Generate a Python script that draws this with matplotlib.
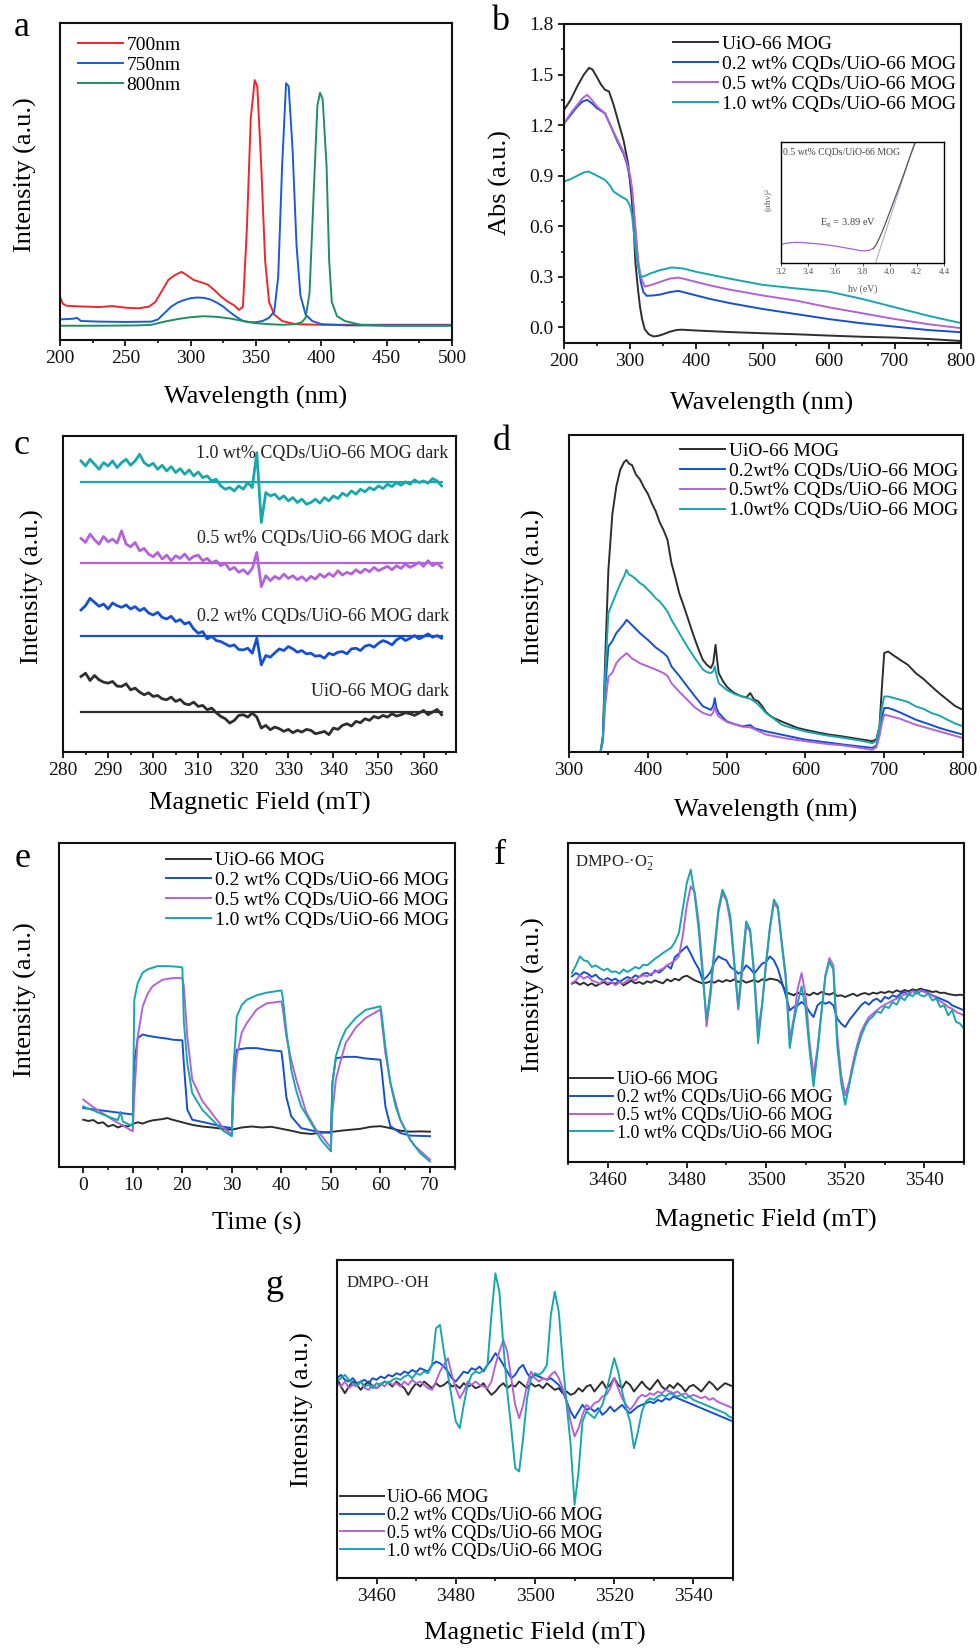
import numpy as np
import matplotlib
matplotlib.use("Agg")
import matplotlib.pyplot as plt
from matplotlib.ticker import MultipleLocator, FormatStrFormatter, NullLocator

plt.rcParams['font.family'] = ['Liberation Serif', 'DejaVu Serif']
plt.rcParams['mathtext.fontset'] = 'custom'
plt.rcParams['mathtext.rm'] = 'Liberation Serif'
plt.rcParams['mathtext.it'] = 'Liberation Serif:italic'
plt.rcParams['mathtext.bf'] = 'Liberation Serif:bold'

W, H = 980, 1648
BLACK = '#2e2e2e'
BLUE = '#1550d2'
PURPLE = '#b462da'
TEAL = '#17a7ad'
SAMPLES = ['UiO-66 MOG', '0.2 wt% CQDs/UiO-66 MOG', '0.5 wt% CQDs/UiO-66 MOG', '1.0 wt% CQDs/UiO-66 MOG']
SAMPLES_D = ['UiO-66 MOG', '0.2wt% CQDs/UiO-66 MOG', '0.5wt% CQDs/UiO-66 MOG', '1.0wt% CQDs/UiO-66 MOG']
COLORS = [BLACK, BLUE, PURPLE, TEAL]

# ---- (a) excitation spectra ----
a_labels = ['700nm', '750nm', '800nm']
a_colors = ['#f0262b', '#1a5bd6', '#1f8f5f']
a_red_x = [200, 202, 205, 215, 230, 240, 250, 260, 268, 273, 278, 283, 288, 293, 297, 302, 308, 313, 318, 323, 328, 333, 337, 340, 343, 346, 349, 351, 354, 357, 360, 364, 370, 380, 400, 500]
a_red_y = [13.7, 11.5, 10.8, 10.6, 10.4, 10.7, 10.2, 10.0, 10.5, 12.0, 15.5, 19.0, 20.5, 21.5, 20.5, 19.0, 18.2, 17.5, 15.8, 13.8, 12.2, 11.0, 9.5, 10.5, 35, 70, 82, 80, 55, 25, 12, 8, 6, 5.0, 4.8, 4.8]
a_blue_x = [200, 210, 213, 216, 230, 250, 270, 275, 280, 285, 290, 295, 300, 305, 310, 315, 320, 325, 330, 335, 340, 345, 350, 355, 360, 364, 367, 370, 373, 375, 378, 381, 384, 388, 393, 400, 420, 500]
a_blue_y = [6.5, 6.7, 7.0, 6.0, 5.8, 5.7, 5.8, 6.5, 8.5, 10.5, 11.8, 12.6, 13.2, 13.4, 13.3, 12.8, 11.8, 10.5, 8.8, 7.3, 6.0, 5.6, 5.6, 6.0, 7.0, 9.0, 20, 55, 81, 80, 60, 30, 14, 8, 6, 5, 4.6, 4.6]
a_green_x = [200, 230, 260, 270, 280, 290, 300, 310, 320, 330, 340, 350, 360, 370, 380, 385, 388, 391, 394, 397, 399, 401, 404, 406, 408, 412, 418, 430, 450, 500]
a_green_y = [4.5, 4.5, 4.6, 4.8, 5.8, 6.6, 7.2, 7.5, 7.3, 6.8, 6.0, 5.3, 5.0, 4.8, 5.0, 5.6, 7.0, 15, 45, 74, 78, 76, 55, 25, 12, 7.5, 6, 4.8, 4.5, 4.5]

# ---- (b) UV-vis absorbance ----
b_black_x = [200, 210, 220, 230, 238, 243, 249, 256, 262, 268, 275, 280, 285, 290, 297, 302, 305, 308, 312, 315, 318, 322, 328, 335, 342, 350, 360, 370, 378, 400, 450, 500, 550, 600, 650, 700, 750, 800]
b_black_y = [1.29, 1.35, 1.43, 1.50, 1.54, 1.53, 1.49, 1.44, 1.41, 1.40, 1.32, 1.25, 1.18, 1.11, 0.97, 0.78, 0.62, 0.38, 0.22, 0.12, 0.05, -0.01, -0.04, -0.053, -0.05, -0.04, -0.025, -0.015, -0.013, -0.018, -0.027, -0.034, -0.04, -0.048, -0.055, -0.06, -0.068, -0.08]
b_blue_x = [200, 210, 220, 228, 235, 242, 250, 262, 270, 280, 290, 295, 300, 303, 306, 309, 312, 316, 320, 325, 335, 345, 360, 373, 390, 420, 450, 500, 550, 600, 650, 700, 750, 800]
b_blue_y = [1.21, 1.26, 1.31, 1.34, 1.35, 1.33, 1.30, 1.27, 1.20, 1.11, 1.03, 0.97, 0.88, 0.80, 0.66, 0.52, 0.38, 0.27, 0.21, 0.188, 0.19, 0.195, 0.21, 0.217, 0.20, 0.17, 0.145, 0.11, 0.08, 0.05, 0.025, 0.005, -0.015, -0.028]
b_purple_x = [200, 210, 220, 228, 235, 242, 250, 262, 270, 280, 290, 295, 300, 303, 306, 309, 312, 316, 322, 330, 345, 360, 373, 390, 420, 450, 500, 550, 600, 650, 700, 750, 800]
b_purple_y = [1.21, 1.27, 1.32, 1.36, 1.38, 1.35, 1.31, 1.27, 1.20, 1.12, 1.04, 0.98, 0.90, 0.82, 0.68, 0.54, 0.40, 0.30, 0.243, 0.25, 0.27, 0.29, 0.296, 0.28, 0.25, 0.225, 0.19, 0.16, 0.12, 0.085, 0.05, 0.02, -0.004]
b_teal_x = [200, 210, 220, 230, 237, 245, 255, 262, 270, 275, 285, 295, 300, 303, 306, 310, 314, 317, 322, 330, 345, 363, 380, 400, 450, 500, 550, 600, 650, 700, 750, 800]
b_teal_y = [0.866, 0.88, 0.90, 0.92, 0.925, 0.91, 0.89, 0.875, 0.84, 0.806, 0.78, 0.757, 0.72, 0.66, 0.55, 0.40, 0.32, 0.30, 0.305, 0.32, 0.34, 0.356, 0.35, 0.33, 0.29, 0.253, 0.232, 0.213, 0.17, 0.12, 0.07, 0.026]
# Tauc plot inset for 0.5 wt%
tauc_x = [3.2, 3.25, 3.3, 3.35, 3.4, 3.5, 3.6, 3.7, 3.8, 3.85, 3.88]
tauc_y = [0.155, 0.165, 0.17, 0.17, 0.165, 0.155, 0.14, 0.12, 0.10, 0.105, 0.12]
tauc_rise_x = [3.88, 3.9, 3.93, 3.96, 4.0, 4.05, 4.1, 4.15, 4.19]
tauc_rise_y = [0.12, 0.15, 0.22, 0.30, 0.42, 0.57, 0.72, 0.88, 1.0]
tangent_x = [3.89, 4.19]
tangent_y = [-0.02, 1.02]
band_gap = 3.89

# ---- (c) EPR in the dark ----
c_field_start = 284
c_labels = ['1.0 wt% CQDs/UiO-66 MOG dark', '0.5 wt% CQDs/UiO-66 MOG dark', '0.2 wt% CQDs/UiO-66 MOG dark', 'UiO-66 MOG dark']
c_baselines = [812, 567, 349, 119]
c_teal = [875, 860, 880, 865, 850, 870, 860, 875, 855, 870,
          880, 862, 875, 895, 870, 860, 868, 850, 862, 845,
          858, 840, 852, 835, 848, 830, 842, 825, 830, 815,
          820, 800, 790, 795, 785, 800, 790, 810, 795, 900,
          690, 780, 770, 775, 760, 770, 755, 765, 750, 760,
          745, 750, 760, 748, 765, 755, 770, 762, 778, 770,
          785, 775, 790, 782, 795, 788, 800, 792, 805, 798,
          810, 802, 812, 805, 818, 810, 815, 808, 822, 815,
          800]
c_purple = [642, 630, 655, 638, 625, 648, 632, 640, 628, 665,
            625, 617, 630, 605, 612, 595, 587, 600, 580, 592,
            575, 590, 582, 595, 578, 588, 592, 575, 582, 568,
            575, 560, 567, 548, 555, 540, 548, 535, 552, 600,
            497, 530, 515, 528, 520, 535, 522, 530, 518, 527,
            515, 528, 520, 535, 525, 537, 528, 545, 532, 540,
            535, 548, 538, 550, 542, 555, 545, 552, 558, 548,
            560, 552, 565, 555, 562, 570, 558, 575, 560, 568,
            555]
c_blue = [427, 440, 462, 450, 438, 445, 430, 448, 440, 435,
          442, 430, 437, 425, 432, 418, 412, 420, 405, 400,
          408, 392, 398, 385, 390, 370, 357, 362, 340, 348,
          335, 332, 325, 318, 322, 308, 307, 312, 297, 342,
          262, 290, 285, 298, 310, 305, 317, 310, 300, 305,
          295, 297, 288, 290, 282, 297, 292, 300, 302, 295,
          310, 312, 305, 318, 322, 315, 327, 335, 330, 322,
          337, 345, 335, 342, 350, 340, 347, 355, 345, 350,
          342]
c_black = [227, 237, 215, 230, 217, 210, 207, 212, 198, 197,
           205, 187, 192, 180, 172, 178, 167, 170, 160, 157,
           165, 152, 158, 145, 142, 150, 137, 140, 127, 132,
           118, 107, 100, 87, 95, 110, 112, 105, 117, 105,
           72, 80, 67, 75, 70, 62, 68, 58, 65, 60,
           68, 65, 55, 58, 62, 52, 72, 68, 80, 85,
           78, 92, 88, 100, 95, 107, 102, 110, 105, 115,
           108, 112, 118, 115, 110, 117, 125, 112, 120, 128,
           112]

# ---- (d) photoluminescence ----
d_black_x = [300, 340, 343, 346, 350, 355, 360, 365, 370, 373, 376, 380, 385, 390, 395, 400, 405, 410, 415, 420, 425, 430, 435, 440, 445, 450, 455, 460, 465, 470, 475, 480, 483, 486, 488, 490, 495, 500, 505, 510, 515, 520, 525, 530, 535, 540, 545, 550, 555, 560, 570, 580, 590, 600, 615, 630, 645, 660, 675, 685, 690, 694, 697, 700, 705, 710, 720, 730, 740, 750, 760, 770, 780, 790, 800]
d_black_y = [0, 0, 5, 30, 57.5, 75, 83.7, 89, 91.5, 92.1, 91, 90.5, 87.5, 86, 83.5, 81.5, 78.5, 76, 72.5, 70, 66.9, 59.6, 55, 50, 46.5, 42.8, 39, 35.4, 32, 29, 27.5, 26.5, 28, 33.8, 29, 24.9, 22.5, 20.7, 19.5, 18.6, 18, 17.5, 17.2, 18.6, 16.5, 16, 14.5, 12.6, 11.5, 10.7, 9.6, 8.6, 7.6, 7.0, 6.2, 5.5, 5.0, 4.4, 3.8, 3.4, 4, 8, 20, 31.2, 31.7, 30.8, 29.1, 27.5, 24.9, 23, 20.7, 18.5, 16.5, 14.5, 13.3]
d_blue_x = [300, 340, 343, 346, 350, 355, 360, 365, 370, 373, 376, 380, 390, 400, 410, 420, 425, 430, 440, 450, 460, 470, 480, 483, 485, 487, 490, 500, 510, 520, 530, 535, 550, 575, 600, 625, 650, 685, 690, 694, 697, 700, 705, 710, 720, 740, 760, 770, 785, 800]
d_blue_y = [0, 0, 4, 20, 33.3, 35, 37.5, 39, 40.5, 41.7, 41, 40, 37.5, 35.4, 33, 31.2, 30, 27, 24, 20.7, 17.5, 14.4, 13.3, 14.5, 17, 14, 12.3, 9.7, 8.8, 8.1, 8.5, 7.5, 6.5, 5.2, 3.9, 3.1, 2.3, 1.3, 2, 6, 11, 13.9, 13.9, 13.5, 12.5, 10.2, 8.5, 7.6, 6.5, 5.5]
d_purple_x = [300, 340, 343, 346, 350, 355, 360, 365, 370, 373, 376, 380, 390, 400, 410, 420, 425, 430, 440, 450, 460, 470, 480, 483, 485, 487, 490, 500, 520, 530, 550, 575, 600, 625, 650, 685, 690, 694, 697, 700, 705, 720, 740, 760, 780, 800]
d_purple_y = [0, 0, 3, 15, 23.8, 25, 28, 29.5, 30.5, 31.2, 30.5, 29.5, 28, 27, 26, 24.9, 24, 21.7, 19, 16.5, 14, 12.3, 11.5, 12.5, 14.4, 12.5, 11.2, 9.5, 8, 7.8, 5.5, 4.3, 3.4, 2.6, 2, 0.7, 1.5, 5, 9, 11.8, 11.5, 10.5, 8.6, 7.2, 5.8, 4.4]
d_teal_x = [300, 340, 343, 346, 350, 355, 360, 365, 370, 373, 376, 380, 385, 390, 395, 400, 405, 410, 415, 420, 425, 430, 440, 450, 460, 470, 475, 480, 483, 485, 487, 490, 500, 510, 520, 530, 535, 540, 550, 560, 570, 580, 600, 625, 650, 670, 685, 690, 694, 697, 700, 705, 710, 720, 730, 740, 750, 760, 770, 780, 790, 800]
d_teal_y = [0, 0, 5, 25, 43.8, 47, 50, 53, 55.5, 57.5, 56, 55.5, 54.5, 53.3, 52.5, 51.2, 50, 48.5, 47.5, 46, 44.3, 41.7, 37.5, 33.3, 29.5, 26, 25.2, 24.9, 25.5, 27, 24.5, 21.7, 19.6, 18.3, 17.5, 16.8, 16, 15, 12.3, 10.5, 8.6, 7.8, 6.5, 5.3, 4.4, 3.6, 2.8, 3.5, 8, 14, 17.5, 17.5, 17.2, 16.5, 15.8, 14.4, 13.6, 12.3, 11.5, 10.2, 9, 8.1]

# ---- (e) transient photocurrent ----
e_black_t = [0, 1, 2, 3, 4, 5, 6, 7, 8, 9, 10, 11, 12, 13, 14, 15, 16, 17, 18, 19, 20, 22, 24, 26, 28, 30, 32, 34, 36, 38, 40, 42, 44, 46, 48, 50, 52, 54, 56, 58, 60, 62, 64, 66, 68, 70]
e_black_i = [14.6, 14.2, 14.5, 13.5, 13.8, 12.5, 13, 12.2, 12.8, 12.5, 13.3, 13.8, 13.4, 14, 14.4, 14.6, 14.8, 15.1, 14.6, 14.2, 13.8, 13.0, 12.5, 12.2, 11.8, 11.5, 12.2, 12.5, 12.2, 12.4, 11.8, 11.2, 10.5, 10.2, 10.6, 10.8, 11.2, 11.5, 11.8, 12.4, 12.6, 12, 11.2, 10.9, 11, 10.9]
e_blue_t = [0, 2, 4, 5, 7, 10, 10.3, 11, 12, 13, 15, 17, 18, 20, 20.3, 21, 22, 25, 28, 30, 30.3, 31, 33, 35, 37, 40, 40.3, 41, 42, 44, 47, 50, 50.3, 51, 53, 55, 57, 60, 60.3, 61, 62, 64, 66, 70]
e_blue_i = [18.2, 17.8, 17.4, 17.2, 16.8, 16.2, 32, 39.8, 40.9, 40.5, 40, 39.6, 39.3, 39.1, 32, 17.7, 14.6, 13.6, 12.5, 12, 26.7, 36.2, 36.7, 36.7, 36.2, 35.7, 32, 21.6, 15.6, 12, 11, 10.5, 26, 33.6, 34, 34, 33.5, 33.1, 29, 18.7, 12.6, 10.5, 9.7, 9.5]
e_purple_t = [0, 2, 4, 6, 8, 10, 10.3, 11, 12, 13, 14, 16, 18, 20, 20.3, 21, 22, 24, 26, 28, 30, 30.3, 31, 32, 33, 35, 37, 40, 40.3, 41, 42, 43, 45, 47, 48, 50, 50.3, 51, 52, 53, 55, 57, 60, 60.3, 61, 62, 64, 66, 67, 70]
e_purple_i = [20.8, 18.5, 16.5, 14.5, 12.8, 11.0, 21.8, 40.3, 49.6, 53.5, 55.8, 57.8, 58.3, 58.3, 55.8, 40.3, 27, 20.5, 16.5, 12.5, 10, 21.8, 34.2, 41.5, 44.4, 48.6, 50.5, 51.1, 48.6, 40.3, 33, 27, 16.9, 11.5, 9.9, 5.9, 16.9, 27, 33, 38.3, 43, 46, 48.6, 44.5, 35, 26, 14.6, 8.5, 6.4, 2.3]
e_teal_t = [0, 1, 2, 3, 4, 5, 6, 7, 7.5, 8, 9, 10, 10.3, 11, 12, 13, 14, 15, 17, 19, 20, 20.3, 21, 22, 24, 26, 28, 30, 30.3, 31, 32, 33, 35, 37, 40, 40.3, 41, 42, 43, 44, 46, 48, 50, 50.3, 51, 52, 53, 55, 57, 60, 60.3, 61, 62, 63, 64, 66, 68, 70]
e_teal_i = [18.7, 18.0, 17.5, 16.8, 16.2, 15.6, 15.0, 14.5, 17, 14, 13.3, 12.6, 51.6, 56.8, 60, 61, 61.5, 62, 62, 61.8, 61.6, 45, 32, 22.8, 17.7, 14.6, 11.5, 9.5, 30, 46.5, 50, 51.6, 53, 53.8, 54.5, 52, 42, 30, 23.5, 18.7, 13.6, 8.4, 4.8, 25.7, 34.2, 39, 42.4, 46, 48.5, 49.6, 46.5, 37, 26, 19, 14.6, 8.4, 4.3, 1.7]

# ---- (f) DMPO-O2- EPR ----
f_field_start = 3451
f_black = [535, 540, 532, 538, 530, 536, 528, 534, 540, 532,
           538, 535, 542, 530, 537, 544, 536, 540, 534, 542,
           538, 545, 540, 536, 548, 542, 550, 545, 555, 559,
           552, 545, 540, 536, 538, 542, 538, 545, 540, 546,
           542, 548, 540, 545, 538, 542, 546, 540, 548, 545,
           550, 548, 545, 535, 510, 505, 500, 508, 503, 505,
           500, 508, 503, 510, 505, 502, 507, 498, 500, 495,
           500, 505, 498, 504, 507, 502, 508, 505, 510, 507,
           512, 508, 515, 510, 516, 512, 518, 515, 520, 516,
           514, 510, 512, 507, 508, 504, 502, 500, 502, 500]
f_blue = [557, 567, 560, 570, 565, 555, 562, 550, 545, 552,
          545, 550, 540, 548, 555, 550, 560, 555, 565, 567,
          560, 575, 568, 577, 590, 580, 615, 625, 637, 647,
          625, 600, 580, 545, 555, 570, 600, 617, 610, 605,
          585, 577, 565, 572, 590, 580, 565, 580, 595, 600,
          617, 605, 580, 540, 500, 455, 465, 470, 480, 470,
          450, 435, 470, 480, 475, 480, 470, 430, 415, 405,
          425, 440, 455, 470, 480, 472, 485, 490, 480, 495,
          490, 500, 495, 505, 510, 500, 515, 505, 512, 515,
          507, 500, 495, 490, 485, 480, 470, 465, 460, 455]
f_purple = [537, 545, 560, 550, 557, 545, 540, 535, 545, 537,
            540, 530, 540, 535, 545, 550, 545, 555, 560, 557,
            565, 570, 575, 580, 590, 597, 605, 617, 680, 770,
            827, 810, 720, 580, 407, 500, 630, 750, 807, 785,
            720, 590, 457, 570, 710, 690, 570, 400, 470, 590,
            700, 777, 760, 660, 560, 370, 430, 520, 567, 500,
            360, 260, 340, 450, 560, 612, 590, 380, 260, 200,
            240, 300, 350, 390, 415, 435, 445, 455, 465, 472,
            478, 485, 490, 497, 502, 507, 512, 508, 515, 510,
            505, 500, 490, 482, 475, 465, 460, 450, 445, 440]
f_teal = [567, 590, 617, 605, 602, 585, 590, 582, 575, 580,
          570, 572, 565, 578, 570, 577, 585, 580, 592, 590,
          600, 610, 618, 627, 635, 642, 660, 687, 760, 837,
          877, 800, 697, 560, 427, 520, 647, 760, 817, 790,
          737, 600, 467, 600, 722, 697, 560, 357, 470, 597,
          707, 787, 767, 650, 547, 342, 420, 477, 527, 460,
          337, 227, 330, 447, 557, 602, 577, 347, 237, 172,
          230, 287, 337, 377, 407, 427, 437, 452, 447, 467,
          462, 480, 472, 495, 485, 505, 497, 512, 500, 497,
          505, 485, 490, 465, 470, 440, 455, 420, 415, 400]

# ---- (g) DMPO-OH EPR ----
g_field_start = 3450
g_black = [600, 575, 555, 575, 590, 580, 565, 580, 590, 575,
           570, 580, 590, 585, 575, 590, 580, 570, 550, 570,
           585, 575, 590, 580, 570, 585, 575, 580, 590, 575,
           580, 570, 585, 575, 580, 570, 575, 585, 565, 550,
           560, 575, 585, 570, 580, 575, 590, 580, 570, 585,
           575, 580, 570, 585, 575, 565, 570, 555, 560, 550,
           555, 570, 560, 575, 580, 560, 575, 590, 570, 580,
           600, 580, 570, 590, 580, 560, 575, 590, 575, 565,
           580, 595, 575, 565, 580, 570, 585, 575, 560, 575,
           580, 570, 560, 575, 590, 580, 565, 575, 585, 580,
           575]
g_blue = [600, 610, 595, 590, 600, 585, 590, 595, 585, 600,
          595, 605, 600, 610, 605, 615, 610, 620, 615, 625,
          618, 630, 625, 620, 640, 650, 645, 635, 620, 600,
          590, 605, 620, 615, 630, 625, 635, 620, 640, 655,
          675, 660, 640, 620, 600, 610, 630, 640, 615, 600,
          610, 605, 600, 595, 600, 590, 580, 560, 530, 500,
          480, 500, 520, 505, 510, 500, 510, 490, 500, 515,
          500, 510, 520, 505, 495, 505, 515, 520, 525, 530,
          525, 535, 530, 540, 535, 545, 540, 535, 530, 525,
          520, 515, 510, 505, 500, 495, 490, 485, 480, 475,
          470]
g_purple = [585, 575, 590, 570, 580, 575, 590, 570, 565, 580,
            570, 585, 575, 590, 580, 585, 575, 590, 580, 595,
            585, 590, 580, 570, 565, 590, 620, 640, 660, 610,
            570, 540, 560, 590, 580, 590, 580, 575, 570, 590,
            640, 680, 715, 680, 600, 520, 480, 520, 580, 620,
            600, 590, 600, 595, 610, 620, 600, 570, 530, 470,
            425, 450, 490, 520, 510, 525, 530, 545, 550, 570,
            600, 570, 540, 520, 505, 520, 540, 550, 545, 555,
            550, 560, 555, 565, 560, 555, 560, 550, 555, 545,
            550, 545, 540, 545, 535, 540, 530, 525, 520, 515,
            510]
g_teal = [590, 600, 610, 595, 585, 580, 590, 575, 580, 570,
          585, 580, 590, 585, 595, 600, 595, 605, 610, 600,
          615, 610, 620, 615, 640, 750, 760, 680, 610, 540,
          470, 450, 520, 580, 610, 620, 615, 625, 640, 790,
          915, 860, 700, 560, 450, 330, 320, 420, 540, 600,
          615, 610, 620, 640, 790, 860, 800, 650, 520, 400,
          220, 320, 470, 500, 490, 480, 500, 520, 560, 610,
          660, 620, 560, 510, 470, 390, 440, 500, 530, 540,
          535, 545, 550, 545, 555, 550, 545, 550, 540, 545,
          535, 530, 525, 520, 515, 510, 505, 500, 495, 485,
          480]


def px_axes(fig, l, t, r, b):
    return fig.add_axes([l / W, 1 - b / H, (r - l) / W, (b - t) / H])


def px_text(fig, x, y, s, **kw):
    kw.setdefault('ha', 'center')
    kw.setdefault('va', 'center')
    return fig.text(x / W, 1 - y / H, s, **kw)


def style_axes(ax, xmajor, xminor, ymajor=None, yminor=None):
    for sp in ax.spines.values():
        sp.set_linewidth(1.5)
        sp.set_color('#111111')
    ax.xaxis.set_major_locator(MultipleLocator(xmajor))
    ax.xaxis.set_minor_locator(MultipleLocator(xminor))
    if ymajor is None:
        ax.yaxis.set_major_locator(NullLocator())
        ax.yaxis.set_minor_locator(NullLocator())
    else:
        ax.yaxis.set_major_locator(MultipleLocator(ymajor))
        ax.yaxis.set_minor_locator(MultipleLocator(yminor))
    ax.tick_params(which='major', direction='out', length=4.5, width=1.3,
                   labelsize=14, pad=3, colors='#111111')
    ax.tick_params(which='minor', direction='out', length=2.5, width=1.1)
    ax.tick_params(top=False, right=False)


def add_legend(ax, x, y, fontsize=14, handlelength=2.3, spacing=0.12):
    ax.legend(loc='upper left', bbox_to_anchor=(x, y), frameon=False,
              fontsize=fontsize, handlelength=handlelength, handletextpad=0.2,
              labelspacing=spacing, borderpad=0, borderaxespad=0)


def field_axis(start, values):
    return start + np.arange(len(values))


fig = plt.figure(figsize=(W / 100, H / 100), dpi=100)
LW = 1.4

# (a)
ax = px_axes(fig, 60, 23, 452, 340)
for xs, ys, lab, col in zip([a_red_x, a_blue_x, a_green_x], [a_red_y, a_blue_y, a_green_y], a_labels, a_colors):
    ax.plot(xs, ys, color=col, lw=LW, label=lab)
ax.set_xlim(200, 500)
ax.set_ylim(0, 100)
style_axes(ax, 50, 25)
add_legend(ax, 0.046, 0.958)

# (b)
ax = px_axes(fig, 564, 24, 961, 343)
for xs, ys, lab, col in zip([b_black_x, b_blue_x, b_purple_x, b_teal_x],
                            [b_black_y, b_blue_y, b_purple_y, b_teal_y], SAMPLES, COLORS):
    ax.plot(xs, ys, color=col, lw=LW, label=lab)
ax.set_xlim(200, 800)
ax.set_ylim(-0.092, 1.8)
style_axes(ax, 100, 50, 0.3, 0.15)
ax.yaxis.set_major_formatter(FormatStrFormatter('%.1f'))
add_legend(ax, 0.275, 0.965)

ins = px_axes(fig, 781, 142, 944, 263)
ins.plot(tauc_x, tauc_y, color='#a860d8', lw=0.9)
ins.plot(tangent_x, tangent_y, color='#b9a6c8', lw=0.8)
ins.plot(tauc_rise_x, tauc_rise_y, color='#555555', lw=0.9)
ins.set_xlim(3.2, 4.4)
ins.set_ylim(0, 1)
for sp in ins.spines.values():
    sp.set_linewidth(1.0)
ins.xaxis.set_major_locator(MultipleLocator(0.2))
ins.xaxis.set_major_formatter(FormatStrFormatter('%.1f'))
ins.yaxis.set_major_locator(NullLocator())
ins.tick_params(direction='out', length=2, width=0.7, labelsize=6.5, pad=1.5, colors='#555555')
ins.text(0.015, 0.92, '0.5 wt% CQDs/UiO-66 MOG', transform=ins.transAxes, fontsize=7,
         color='#444444', va='center')
ins.text(0.24, 0.33, 'E$_\\mathrm{g}$ = %.2f eV' % band_gap, transform=ins.transAxes,
         fontsize=7.5, color='#444444', va='center')
px_text(fig, 770, 200, '(αhν)$^2$', rotation=90, fontsize=6.5, color='#555555')
px_text(fig, 863, 289, 'hν (eV)', fontsize=7, color='#555555')

# (c)
ax = px_axes(fig, 63, 436, 456, 752)
for ys, base, col in zip([c_teal, c_purple, c_blue, c_black], c_baselines, [TEAL, PURPLE, BLUE, BLACK]):
    xs = field_axis(c_field_start, ys)
    ax.plot([xs[0], xs[-1]], [base, base], color=col, lw=1.6)
    ax.plot(xs, ys, color=col, lw=2.0)
for lab, ty in zip(c_labels, [898, 643, 406, 181]):
    ax.text(365.6, ty, lab, fontsize=13, ha='right', va='center', color='#222222')
ax.set_xlim(280, 367.2)
ax.set_ylim(0, 950)
style_axes(ax, 10, 5)

# (d)
ax = px_axes(fig, 569, 435, 963, 752)
for xs, ys, lab, col in zip([d_black_x, d_blue_x, d_purple_x, d_teal_x],
                            [d_black_y, d_blue_y, d_purple_y, d_teal_y], SAMPLES_D, COLORS):
    ax.plot(xs, ys, color=col, lw=LW, label=lab)
ax.set_xlim(300, 800)
ax.set_ylim(0, 100)
style_axes(ax, 100, 50)
add_legend(ax, 0.282, 0.978)

# (e)
ax = px_axes(fig, 59, 843, 455, 1167)
for xs, ys, lab, col in zip([e_black_t, e_blue_t, e_purple_t, e_teal_t],
                            [e_black_i, e_blue_i, e_purple_i, e_teal_i], SAMPLES, COLORS):
    ax.plot(xs, ys, color=col, lw=LW, label=lab)
ax.set_xlim(-4.9, 75.05)
ax.set_ylim(0, 100)
style_axes(ax, 10, 5)
add_legend(ax, 0.27, 0.973)

# (f)
ax = px_axes(fig, 568, 843, 964, 1162)
for ys, lab, col in zip([f_black, f_blue, f_purple, f_teal], SAMPLES, COLORS):
    ax.plot(field_axis(f_field_start, ys), ys, color=col, lw=LW, label=lab)
ax.set_xlim(3450, 3550)
ax.set_ylim(0, 957)
style_axes(ax, 20, 10)
add_legend(ax, 0.005, 0.285, fontsize=13, handlelength=2.4, spacing=0.05)
px_text(fig, 575, 863, 'DMPO-·O$_2^{-}$', ha='left', fontsize=12, color='#222222')

# (g)
ax = px_axes(fig, 337, 1260, 733, 1578)
for ys, lab, col in zip([g_black, g_blue, g_purple, g_teal], SAMPLES, COLORS):
    ax.plot(field_axis(g_field_start, ys), ys, color=col, lw=LW, label=lab)
ax.set_xlim(3450, 3550)
ax.set_ylim(0, 955)
style_axes(ax, 20, 10)
add_legend(ax, 0.008, 0.28, fontsize=13, handlelength=2.4, spacing=0.05)
px_text(fig, 347, 1283, 'DMPO-·OH', ha='left', fontsize=12, color='#222222')

# panel letters
for letter, x, y in [('a', 22, 28), ('b', 500, 22), ('c', 22, 445), ('d', 502, 441),
                     ('e', 23, 858), ('f', 500, 855), ('g', 275, 1285)]:
    px_text(fig, x, y, letter, fontsize=26)

# axis titles
LBL = 19
for s, x, y in [('Wavelength (nm)', 256, 397), ('Wavelength (nm)', 762, 403),
                ('Magnetic Field (mT)', 260, 803), ('Wavelength (nm)', 766, 810),
                ('Time (s)', 257, 1223), ('Magnetic Field (mT)', 766, 1220),
                ('Magnetic Field (mT)', 535, 1633)]:
    px_text(fig, x, y, s, fontsize=LBL)
for s, x, y in [('Intensity (a.u.)', 25, 175), ('Abs (a.u.)', 500, 183),
                ('Intensity (a.u.)', 32, 587), ('Intensity (a.u.)', 533, 587),
                ('Intensity (a.u.)', 25, 1000), ('Intensity (a.u.)', 533, 995),
                ('Intensity (a.u.)', 302, 1410)]:
    px_text(fig, x, y, s, fontsize=LBL, rotation=90)

fig.savefig('out.png', dpi=100, facecolor='white')
